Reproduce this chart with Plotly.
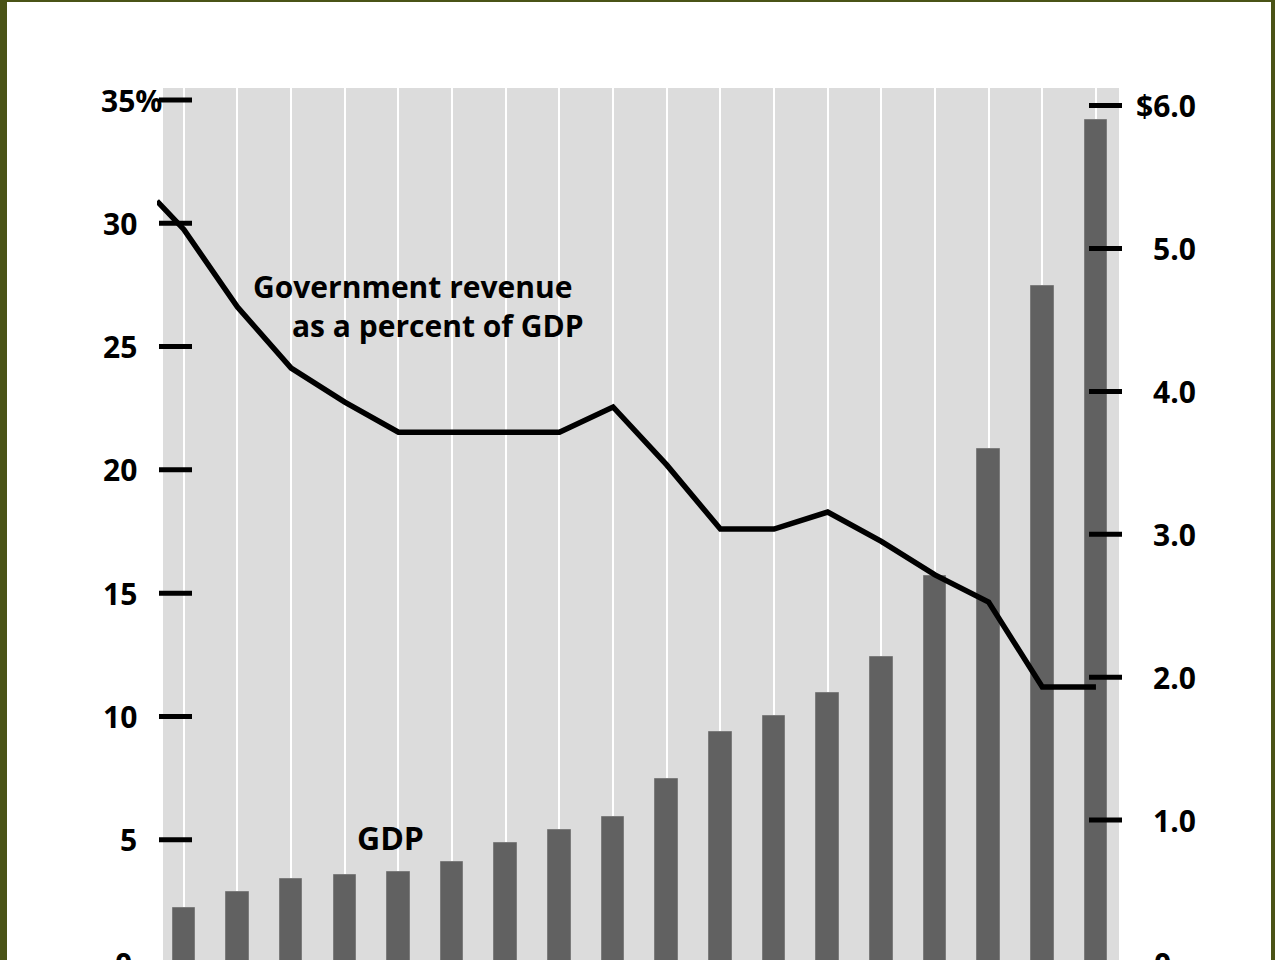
import plotly.graph_objects as go

# ---- data ----
categories = [f"P{i}" for i in range(1, 19)]          # x labels are cropped off in the reference
gdp_trillions = [0.385, 0.50, 0.59, 0.615, 0.64, 0.71, 0.84, 0.93, 1.02,
                 1.29, 1.615, 1.727, 1.888, 2.14, 2.71, 3.60, 4.74, 5.90]
revenue_start = 30.9                                   # value where the line enters at the left edge
revenue_pct = [29.75, 26.6, 24.13, 22.75, 21.53, 21.53, 21.53, 21.53, 22.55,
               20.2, 17.6, 17.6, 18.29, 17.1, 15.74, 14.64, 11.19, 11.19]
pct_ticks = [5, 10, 15, 20, 25, 30, 35]
pct_labels = ["5", "10", "15", "20", "25", "30", "35%"]
usd_ticks = [1, 2, 3, 4, 5, 6]
usd_labels = ["1.0", "2.0", "3.0", "4.0", "5.0", "$6.0"]

# ---- styling ----
OLIVE = "#4a5316"
BG_GRAY = "#dcdcdc"
BAR = "#616161"
FONT = "Open Sans"

x = list(range(len(categories)))
x_range = [-0.5, len(categories) - 1 + 0.43]
usd_range = [0.021, 6.123]
pct_range = [0.122, 35.487]

fig = go.Figure()
fig.add_trace(go.Bar(
    x=x, y=gdp_trillions, yaxis="y", width=0.42,
    marker=dict(color=BAR, line=dict(color="#7c7c7c", width=1)),
    showlegend=False, hoverinfo="skip",
))
fig.add_trace(go.Scatter(
    x=[x[0] - 0.5] + x, y=[revenue_start] + revenue_pct, yaxis="y2",
    mode="lines", line=dict(color="black", width=5.5),
    showlegend=False, hoverinfo="skip",
))

W, H = 1275, 960
L, R, T, B = 157, 1119, 88, 960
pw, ph = R - L, B - T

def px_x(p):
    return (p - L) / pw

def px_y(p):
    return (B - p) / ph

shapes = [
    # white page inside the olive frame
    dict(type="rect", xref="paper", yref="paper", x0=px_x(7), x1=px_x(1271),
         y0=-0.2, y1=px_y(2), fillcolor="white", line=dict(width=0), layer="below"),
    # gray plotting panel
    dict(type="rect", xref="paper", yref="paper", x0=px_x(163), x1=1,
         y0=0, y1=1, fillcolor=BG_GRAY, line=dict(width=0), layer="below"),
]
for v in pct_ticks:
    shapes.append(dict(type="line", xref="paper", yref="y2", x0=px_x(159), x1=px_x(192),
                       y0=v, y1=v, line=dict(color="black", width=5), layer="above"))
for v in usd_ticks:
    shapes.append(dict(type="line", xref="paper", yref="y", x0=px_x(1089), x1=px_x(1122),
                       y0=v, y1=v, line=dict(color="black", width=5), layer="above"))

tick_font = dict(family=FONT, size=30, color="black", weight="bold")
annotations = []
for v, lab in zip(pct_ticks, pct_labels):
    if lab.endswith("%"):
        annotations.append(dict(x=px_x(99), y=v, xref="paper", yref="y2", text=lab,
                                xanchor="left", yanchor="middle", showarrow=False, font=tick_font))
    else:
        annotations.append(dict(x=px_x(139), y=v, xref="paper", yref="y2", text=lab,
                                xanchor="right", yanchor="middle", showarrow=False, font=tick_font))
for v, lab in zip(usd_ticks, usd_labels):
    annotations.append(dict(x=px_x(1198), y=v, xref="paper", yref="y", text=lab,
                            xanchor="right", yanchor="middle", showarrow=False, font=tick_font))
# zero labels sit just below the cropped bottom edge
zero_left = (0 - pct_range[0]) / (pct_range[1] - pct_range[0])
zero_right = (0 - usd_range[0]) / (usd_range[1] - usd_range[0])
annotations.append(dict(x=px_x(134), y=zero_left, xref="paper", yref="paper", text="0",
                        xanchor="right", yanchor="middle", showarrow=False, font=tick_font))
annotations.append(dict(x=px_x(1152), y=zero_right, xref="paper", yref="paper", text="0",
                        xanchor="left", yanchor="middle", showarrow=False, font=tick_font))

label_font = dict(family=FONT, size=30, color="black", weight="bold")
NB = "\u00a0"
annotations += [
    dict(x=px_x(251), y=px_y(306), xref="paper", yref="paper",
         text="Government revenue<br>" + NB * 5 + "as a percent of GDP",
         xanchor="left", yanchor="middle", align="left", showarrow=False, font=label_font),
    dict(x=px_x(355), y=px_y(837), xref="paper", yref="paper", text="GDP",
         xanchor="left", yanchor="middle", showarrow=False,
         font=dict(family=FONT, size=32, color="black", weight="bold")),
]

fig.update_layout(
    width=W, height=H,
    margin=dict(l=L, r=W - R, t=T, b=H - B, pad=0),
    paper_bgcolor=OLIVE, plot_bgcolor="rgba(0,0,0,0)",
    xaxis=dict(range=x_range, tickvals=x, ticktext=categories, showticklabels=False,
               showgrid=True, gridcolor="white", gridwidth=2, zeroline=False,
               showline=False, ticks=""),
    yaxis=dict(range=usd_range, showgrid=False, zeroline=False, showticklabels=False,
               ticks="", showline=False),
    yaxis2=dict(range=pct_range, overlaying="y", side="left", showgrid=False,
                zeroline=False, showticklabels=False, ticks="", showline=False),
    shapes=shapes, annotations=annotations, bargap=0,
)

# remove the browser's default 8px body margin so the figure fills the window exactly
fig.write_html(
    "out.html",
    config={"displayModeBar": False},
    post_script="document.body.style.margin='0';document.body.style.overflow='hidden';",
)
